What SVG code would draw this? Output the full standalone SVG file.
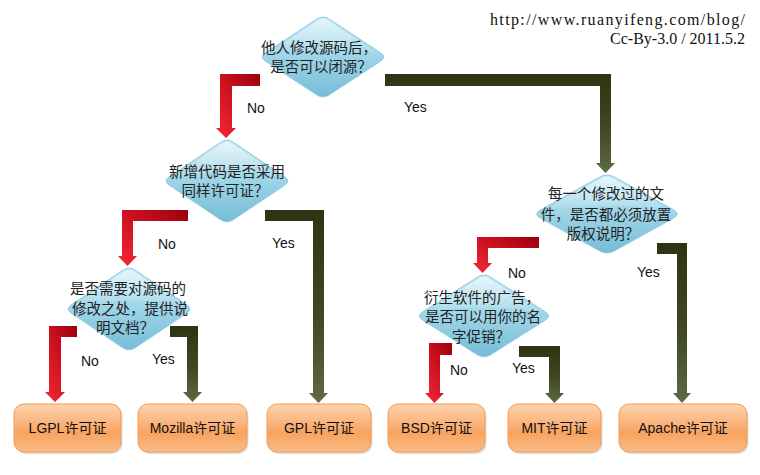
<svg xmlns="http://www.w3.org/2000/svg" width="760" height="475" viewBox="0 0 760 475">
<defs>
<linearGradient id="gDia" x1="0" y1="0" x2="0" y2="1">
<stop offset="0" stop-color="#c6eaf5"/>
<stop offset="0.5" stop-color="#9dd4e7"/>
<stop offset="1" stop-color="#76bcd6"/>
</linearGradient>
<linearGradient id="gBox" x1="0" y1="0" x2="0" y2="1">
<stop offset="0" stop-color="#fdd3ad"/>
<stop offset="0.45" stop-color="#fab077"/>
<stop offset="0.6" stop-color="#f8a35f"/>
<stop offset="1" stop-color="#fbbb86"/>
</linearGradient>
<linearGradient id="gRed" x1="1" y1="0" x2="0" y2="1">
<stop offset="0" stop-color="#9a000e"/>
<stop offset="0.45" stop-color="#cc0f1e"/>
<stop offset="1" stop-color="#f42a36"/>
</linearGradient>
<linearGradient id="gOlive" x1="0" y1="0" x2="0" y2="1">
<stop offset="0" stop-color="#2d3411"/>
<stop offset="0.55" stop-color="#3e4822"/>
<stop offset="1" stop-color="#5f6944"/>
</linearGradient>
<linearGradient id="gShine" x1="0" y1="0" x2="0" y2="1">
<stop offset="0" stop-color="#ffffff" stop-opacity="0.55"/>
<stop offset="1" stop-color="#ffffff" stop-opacity="0.05"/>
</linearGradient>
</defs>
<style>
.dia{fill:url(#gDia);stroke:#8fcde2;stroke-width:1}
.shine{fill:url(#gShine)}
.box{fill:url(#gBox);stroke:#f19b57;stroke-width:1}
.shadow{fill:#000;opacity:0.13}
.red{fill:url(#gRed)}
.olive{fill:url(#gOlive)}
.dt{font-family:"Noto Sans CJK SC","Liberation Sans",sans-serif;font-size:14.5px;fill:#222;text-anchor:middle}
.bt{font-family:"Liberation Sans","Noto Sans CJK SC",sans-serif;font-size:14px;fill:#111;text-anchor:middle}
.lbl{font-family:"Liberation Sans",Arial,sans-serif;font-size:14px;fill:#111}
.hdr{font-family:"Liberation Serif","Times New Roman",serif;font-size:16px;fill:#111;text-anchor:end}
</style>
<rect width="760" height="475" fill="#ffffff"/>

<g id="header">
<text class="hdr" x="745" y="25" textLength="255" lengthAdjust="spacing">http://www.ruanyifeng.com/blog/</text>
<text class="hdr" x="745" y="44">Cc-By-3.0 / 2011.5.2</text>
</g>

<g id="connectors">
<path class="red" d="M260,74 L220,74 L220,128 L216,128 L226,138 L236,128 L232,128 L232,86 L260,86 Z"/>
<path class="olive" d="M385,74 L611,74 L611,163 L615,163 L605.5,173 L596,163 L600,163 L600,86 L385,86 Z"/>
<path class="red" d="M188,210 L122,210 L122,256 L118,256 L127.5,266 L137,256 L133,256 L133,221 L188,221 Z"/>
<path class="olive" d="M265,210 L324,210 L324,393 L328,393 L318.5,403 L309,393 L313,393 L313,221 L265,221 Z"/>
<path class="red" d="M77,326 L49,326 L49,392 L45,392 L55,402 L65,392 L61,392 L61,337 L77,337 Z"/>
<path class="olive" d="M170,326 L198,326 L198,392 L202,392 L192.5,402 L183,392 L187,392 L187,337 L170,337 Z"/>
<path class="red" d="M539,237 L477,237 L477,263 L473,263 L482.5,273 L492,263 L488,263 L488,248 L539,248 Z"/>
<path class="olive" d="M657,243 L687,243 L687,393 L691,393 L682,403 L673,393 L677,393 L677,254 L657,254 Z"/>
<path class="red" d="M452,343 L429,343 L429,393 L425,393 L434.5,403 L444,393 L440,393 L440,355 L452,355 Z"/>
<path class="olive" d="M519,346 L560,346 L560,393 L564,393 L554.5,403 L545,393 L549,393 L549,357 L519,357 Z"/>
<text class="lbl" x="247" y="113">No</text>
<text class="lbl" x="404" y="112">Yes</text>
<text class="lbl" x="158" y="249">No</text>
<text class="lbl" x="272" y="248">Yes</text>
<text class="lbl" x="81" y="366">No</text>
<text class="lbl" x="152" y="364">Yes</text>
<text class="lbl" x="508" y="278">No</text>
<text class="lbl" x="637" y="277">Yes</text>
<text class="lbl" x="450" y="375">No</text>
<text class="lbl" x="512" y="373">Yes</text>
</g>

<g id="q1" transform="translate(323,57)">
<path class="dia" d="M6.4,-37.8 L57.6,-4.2 Q64,0 57.6,4.2 L6.4,37.8 Q0,42 -6.4,37.8 L-57.6,4.2 Q-64,0 -57.6,-4.2 L-6.4,-37.8 Q0,-42 6.4,-37.8 Z"/>
<path class="shine" d="M-56,-3 L-5,-36.5 Q0,-40 5,-36.5 L56,-3 Q0,-14 -56,-3 Z"/>
<text class="dt" x="-4" y="-4">他人修改源码后，</text>
<text class="dt" x="-2" y="15">是否可以闭源？</text>
</g>

<g id="q2" transform="translate(227,181)">
<path class="dia" d="M6.4,-38.7 L57.6,-4.3 Q64,0 57.6,4.3 L6.4,38.7 Q0,43 -6.4,38.7 L-57.6,4.3 Q-64,0 -57.6,-4.3 L-6.4,-38.7 Q0,-43 6.4,-38.7 Z"/>
<path class="shine" d="M-56,-3 L-5,-37.5 Q0,-41 5,-37.5 L56,-3 Q0,-14 -56,-3 Z"/>
<text class="dt" x="0" y="-4">新增代码是否采用</text>
<text class="dt" x="-2" y="15">同样许可证？</text>
</g>

<g id="q3" transform="translate(129,309)">
<path class="dia" d="M6.4,-38.7 L57.6,-4.3 Q64,0 57.6,4.3 L6.4,38.7 Q0,43 -6.4,38.7 L-57.6,4.3 Q-64,0 -57.6,-4.3 L-6.4,-38.7 Q0,-43 6.4,-38.7 Z"/>
<path class="shine" d="M-56,-3 L-5,-37.5 Q0,-41 5,-37.5 L56,-3 Q0,-14 -56,-3 Z"/>
<text class="dt" x="-1" y="-15">是否需要对源码的</text>
<text class="dt" x="1" y="5">修改之处，提供说</text>
<text class="dt" x="-4" y="24">明文档？</text>
</g>

<g id="q4" transform="translate(607,214)">
<path class="dia" d="M7.4,-36.9 L66.6,-4.1 Q74,0 66.6,4.1 L7.4,36.9 Q0,41 -7.4,36.9 L-66.6,4.1 Q-74,0 -66.6,-4.1 L-7.4,-36.9 Q0,-41 7.4,-36.9 Z"/>
<path class="shine" d="M-65,-3 L-6,-35.5 Q0,-39 6,-35.5 L65,-3 Q0,-14 -65,-3 Z"/>
<text class="dt" x="-1" y="-15">每一个修改过的文</text>
<text class="dt" x="-1" y="6">件，是否都必须放置</text>
<text class="dt" x="-4" y="25">版权说明？</text>
</g>

<g id="q5" transform="translate(484,316)">
<path class="dia" d="M6.8,-38.7 L61.2,-4.3 Q68,0 61.2,4.3 L6.8,38.7 Q0,43 -6.8,38.7 L-61.2,4.3 Q-68,0 -61.2,-4.3 L-6.8,-38.7 Q0,-43 6.8,-38.7 Z"/>
<path class="shine" d="M-60,-3 L-5,-37.5 Q0,-41 5,-37.5 L60,-3 Q0,-14 -60,-3 Z"/>
<text class="dt" x="-2" y="-13">衍生软件的广告，</text>
<text class="dt" x="-1" y="6">是否可以用你的名</text>
<text class="dt" x="-3" y="26">字促销？</text>
</g>

<g id="lgpl">
<rect class="shadow" x="15.5" y="406" width="107" height="48" rx="10"/>
<rect class="box" x="14" y="404" width="107" height="48" rx="10"/>
<text class="bt" x="67.5" y="433">LGPL许可证</text>
</g>
<g id="mozilla">
<rect class="shadow" x="139.5" y="406" width="109" height="48" rx="10"/>
<rect class="box" x="138" y="404" width="109" height="48" rx="10"/>
<text class="bt" x="192.5" y="433">Mozilla许可证</text>
</g>
<g id="gpl">
<rect class="shadow" x="268.5" y="406" width="104" height="48" rx="10"/>
<rect class="box" x="267" y="404" width="104" height="48" rx="10"/>
<text class="bt" x="319" y="433">GPL许可证</text>
</g>
<g id="bsd">
<rect class="shadow" x="389.5" y="406" width="97" height="48" rx="10"/>
<rect class="box" x="388" y="404" width="97" height="48" rx="10"/>
<text class="bt" x="436.5" y="433">BSD许可证</text>
</g>
<g id="mit">
<rect class="shadow" x="509.5" y="406" width="93" height="48" rx="10"/>
<rect class="box" x="508" y="404" width="93" height="48" rx="10"/>
<text class="bt" x="554.5" y="433">MIT许可证</text>
</g>
<g id="apache">
<rect class="shadow" x="620.5" y="406" width="128" height="48" rx="10"/>
<rect class="box" x="619" y="404" width="128" height="48" rx="10"/>
<text class="bt" x="683" y="433">Apache许可证</text>
</g>
</svg>
